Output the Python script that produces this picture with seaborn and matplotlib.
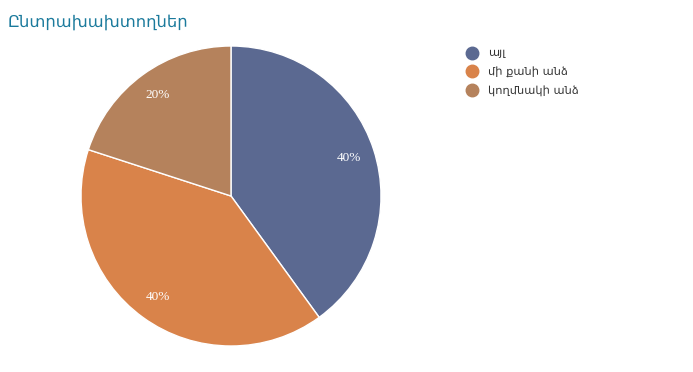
import matplotlib
matplotlib.use("Agg")
import matplotlib.pyplot as plt
import seaborn as sns
from matplotlib.lines import Line2D

# Data
labels = ["այլ", "մի քանի անձ", "կողմնակի անձ"]
values = [40, 40, 20]
colors = ["#5b6991", "#d9834a", "#b5825c"]
title = "Ընտրախախտողներ"

sns.set_theme(style="white")
plt.rcParams['font.family'] = ['DejaVu Sans']

fig = plt.figure(figsize=(6.93, 3.72), dpi=100)
W, H = 693, 372
cx, cy, r = 231, 196, 150
ax = fig.add_axes([(cx - r) / W, (H - cy - r) / H, 2 * r / W, 2 * r / H])

wedges, texts, autotexts = ax.pie(
    values, colors=sns.color_palette(colors), startangle=90, counterclock=False,
    autopct='%1.0f%%', pctdistance=0.83, radius=1,
    wedgeprops=dict(edgecolor='white', linewidth=1),
    textprops=dict(color='white', fontsize=9.5, family='Liberation Serif'))
ax.set_xlim(-1, 1)
ax.set_ylim(-1, 1)
ax.set_aspect('equal')
ax.axis('off')

fig.text(8 / W, 1 - 22 / H, title, fontsize=11.8, color='#1b7a9c', va='center', ha='left')

handles = [Line2D([0], [0], marker='o', linestyle='', markersize=9,
                  markerfacecolor=c, markeredgecolor=c) for c in colors]
fig.legend(handles, labels, loc='upper left', bbox_to_anchor=(465 / W, 1 - 48.5 / H),
           frameon=False, fontsize=8.2, handletextpad=0.8, labelspacing=0.68,
           handlelength=1.2, borderaxespad=0, borderpad=0, labelcolor='#333333')

fig.savefig("out.png", dpi=100)
